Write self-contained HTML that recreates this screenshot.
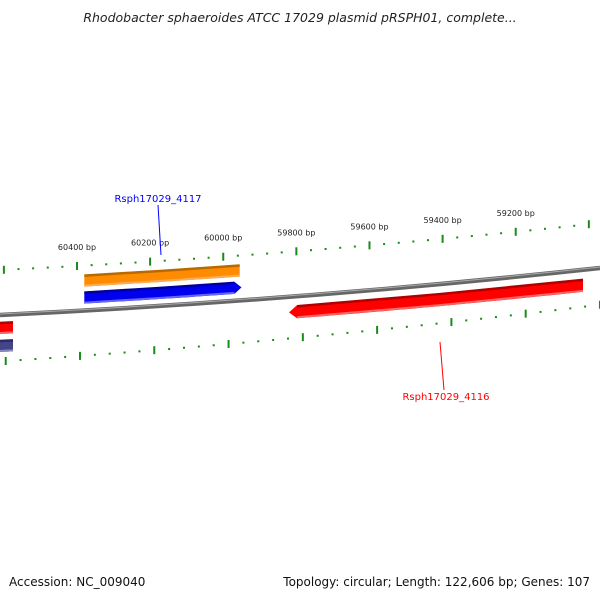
<!DOCTYPE html>
<html><head><meta charset="utf-8"><style>
body{margin:0;background:#fff}
svg{display:block;font-family:"DejaVu Sans","Liberation Sans",sans-serif}
</style></head><body>
<svg id="map" width="600" height="600" viewBox="0 0 600 600">
<text x="300" y="22" text-anchor="middle" font-size="12.5" font-style="italic" fill="#222">Rhodobacter sphaeroides ATCC 17029 plasmid pRSPH01, complete...</text>
<g id="ticks"></g>
<path d="M0,315 Q300,300.5 600,268" stroke="#666" stroke-width="4.5" fill="none"/>
<path d="M0,314 Q300,299.5 600,267" stroke="#aaa" stroke-width="1" fill="none"/>
<g id="genes"></g>
<line x1="158" y1="205" x2="161" y2="255" stroke="#00f" stroke-width="1"/>
<text x="158" y="202" text-anchor="middle" font-size="10" fill="#00f">Rsph17029_4117</text>
<line x1="440" y1="342" x2="444" y2="390" stroke="#f00" stroke-width="1"/>
<text x="446" y="400" text-anchor="middle" font-size="10" fill="#f00">Rsph17029_4116</text>
<text x="9" y="586" font-size="12" fill="#111">Accession: NC_009040</text>
<text x="590" y="586" text-anchor="end" font-size="12" fill="#111">Topology: circular; Length: 122,606 bp; Genes: 107</text>
</svg>
<script>
const majorTicks=[60600,60400,60200,60000,59800,59600,59400,59200,59000];
const tickLabels=["60400 bp","60200 bp","60000 bp","59800 bp","59600 bp","59400 bp","59200 bp"];
const labelBp=[60400,60200,60000,59800,59600,59400,59200];
const geneStarts=[60380,60380,59820,60650,60650];
const geneEnds=[59955,59950,59016,60575,60575];
const geneNames=["orange-gene","Rsph17029_4117","Rsph17029_4116","red-gene-partial","purple-gene-partial"];
const NS="http://www.w3.org/2000/svg";
function bb(x){return 315-0.0483*x-5e-5*x*x;}
function xU(bp){return 77+(60400-bp)*0.3656;}
function yU(x){return bb(x)-45;}
function xL(bp){return 80+(60400-bp)*0.3714;}
function yL(x){return 361.4-0.0651*x-4.89e-5*x*x;}
const tg=document.getElementById('ticks');
function tick(x,y,maj){
 const r=document.createElementNS(NS,'rect');
 r.setAttribute('x',x-1);r.setAttribute('y',maj?y-4:y-1);
 r.setAttribute('width',2);r.setAttribute('height',maj?8:2);
 r.setAttribute('fill','#1a8a1a');
 
 
 tg.appendChild(r);
}
for(let bp=60640;bp>=58900;bp-=40){
 const maj=majorTicks.includes(bp);
 let x=xU(bp); if(x>=0&&x<=600) tick(x,yU(x),maj);
 x=xL(bp); if(x>=0&&x<=600) tick(x,yL(x),maj);
}
labelBp.forEach((bp,i)=>{
 const x=xU(bp);const t=document.createElementNS(NS,'text');
 t.setAttribute('x',x);t.setAttribute('y',yU(x)-16);
 t.setAttribute('text-anchor','middle');t.setAttribute('font-size','8');t.setAttribute('fill','#222');
 
 
 t.textContent=tickLabels[i];tg.appendChild(t);
});
const gg=document.getElementById('genes');
const offs=[[-36,-24],[-19,-7],[9,22],[7,19],[25,37]];
const cols=[["#ff8c00","#b86a00","#ffaa55"],["#0000ee","#0000a0","#6666ff"],["#ff0000","#b00000","#ff6666"],["#ff0000","#b00000","#ff6666"],["#444488","#2a2a66","#8888bb"]];
const arrows=[0,1,-1,0,0];
function band(x1,x2,o1,o2,col,arrow,name){
 const pts=[];const a1=arrow<0?8:0,a2=arrow>0?7:0;
 const n=20;
 for(let i=0;i<=n;i++){const x=(x1+a1)+((x2-a2)-(x1+a1))*i/n;pts.push([x,bb(x)+o1]);}
 if(arrow>0)pts.push([x2,bb(x2)+(o1+o2)/2]);
 for(let i=n;i>=0;i--){const x=(x1+a1)+((x2-a2)-(x1+a1))*i/n;pts.push([x,bb(x)+o2]);}
 if(arrow<0)pts.push([x1,bb(x1)+(o1+o2)/2]);
 const p=document.createElementNS(NS,'polygon');
 p.setAttribute('points',pts.map(q=>q[0].toFixed(1)+','+q[1].toFixed(1)).join(' '));
 p.setAttribute('fill',col);
 
 
 gg.appendChild(p);
}
geneStarts.forEach((s,i)=>{
 const x1=Math.max(0,xU(s)),x2=Math.min(600,xU(geneEnds[i]));
 const [o1,o2]=offs[i];const c=cols[i];
 band(x1,x2,o1,o2,c[0],arrows[i],geneNames[i]);
 const sx=x1+(arrows[i]<0?8:0),ex=x2-(arrows[i]>0?7:0);
 const top=document.createElementNS(NS,'path');
 top.setAttribute('d',`M${sx},${bb(sx)+o1+1} L${(sx+ex)/2},${bb((sx+ex)/2)+o1+1} L${ex},${bb(ex)+o1+1}`);
 top.setAttribute('stroke',c[1]);top.setAttribute('stroke-width','2.5');top.setAttribute('fill','none');
 
 
 gg.appendChild(top);
 const bot=document.createElementNS(NS,'path');
 bot.setAttribute('d',`M${sx},${bb(sx)+o2-1} L${(sx+ex)/2},${bb((sx+ex)/2)+o2-1} L${ex},${bb(ex)+o2-1}`);
 bot.setAttribute('stroke',c[2]);bot.setAttribute('stroke-width','2');bot.setAttribute('fill','none');
 
 
 gg.appendChild(bot);
});
</script>
</body></html>
